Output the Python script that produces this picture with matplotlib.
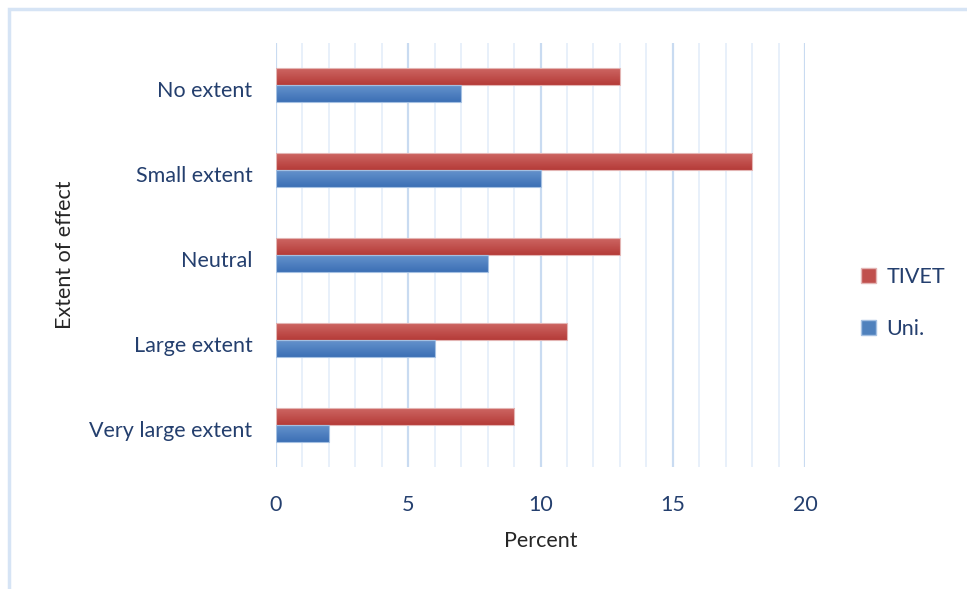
import matplotlib
matplotlib.use('Agg')
import matplotlib.pyplot as plt
import numpy as np
from matplotlib.patches import Rectangle, Patch
from matplotlib.colors import LinearSegmentedColormap
from matplotlib.transforms import ScaledTranslation

categories = ["Very large extent", "Large extent", "Neutral", "Small extent", "No extent"]
tivet = [9, 11, 13, 18, 13]
uni = [2, 6, 8, 10, 7]
series_names = ["TIVET", "Uni."]
x_ticks = [0, 5, 10, 15, 20]

text_col = "#243f6e"
red = "#c0504d"
blue = "#4f81bd"
fs = 15.5

plt.rcParams['font.family'] = ['Lato', 'DejaVu Sans']

fig = plt.figure(figsize=(9.67, 5.89), dpi=100, facecolor="white")
ax = fig.add_axes([276 / 967, 1 - 467 / 589, (805 - 276) / 967, (467 - 43) / 589])

# chart frame, only the top and left edges show
fig.patches.append(Rectangle((9 / 967, -0.1), 1.2, 1 - 9 / 589 + 0.1, transform=fig.transFigure,
                             fill=False, edgecolor="#d6e4f5", linewidth=2.5))


def shade_bars(bars, top, bottom):
    # vertical gradient inside each bar, lighter on top
    cmap = LinearSegmentedColormap.from_list("g", [bottom, top])
    grad = np.linspace(1, 0, 64).reshape(-1, 1)
    for b in bars:
        x0, y0 = b.get_x(), b.get_y()
        im = ax.imshow(grad, cmap=cmap, aspect='auto', interpolation='bicubic',
                       extent=(x0, x0 + b.get_width(), y0, y0 + b.get_height()),
                       origin='upper', zorder=3)
        im.set_clip_path(b)


y = np.arange(len(categories))
h = 0.2
rb = ax.barh(y + h / 2, tivet, height=h, color=red, edgecolor="#e3b5b4", linewidth=0.8, zorder=4)
bb = ax.barh(y - h / 2, uni, height=h, color=blue, edgecolor="#a4c0e2", linewidth=0.8, zorder=4)
for b in list(rb) + list(bb):
    b.set_facecolor("none")
shade_bars(rb, "#cd6663", "#b53b38")
shade_bars(bb, "#6592cc", "#3c70b5")

ax.set_xlim(0, 20)
ax.set_ylim(-0.5, len(categories) - 0.5)

# grid: light line every unit, stronger every 5
for v in range(0, 21):
    major = v % 5 == 0
    ax.axvline(v, color="#c9dbf1" if major else "#e8f0fa", linewidth=1.6 if major else 1.4, zorder=1)

ax.set_xticks(x_ticks)
ax.set_yticks(y)
ax.set_yticklabels(categories)
ax.tick_params(axis='x', length=0, pad=20, labelsize=fs, labelcolor=text_col)
ax.tick_params(axis='y', length=0, pad=17, labelsize=fs, labelcolor=text_col)
shift = ScaledTranslation(0, -4 / 100, fig.dpi_scale_trans)
for lbl in ax.get_yticklabels():
    lbl.set_transform(lbl.get_transform() + shift)
for s in ax.spines.values():
    s.set_visible(False)

ax.set_xlabel("Percent", fontsize=fs, color="#262626", va='center')
ax.xaxis.set_label_coords(0.5, (467 - 541) / 424)
ax.set_ylabel("Extent of effect", fontsize=fs, color="#262626", va='center')
ax.yaxis.set_label_coords((65 - 276) / 529, 0.5)

handles = [Patch(facecolor=red, edgecolor="#e3b5b4"), Patch(facecolor=blue, edgecolor="#a4c0e2")]
fig.legend(handles, series_names, loc='center left', bbox_to_anchor=(842 / 967, 1 - 303 / 589),
           frameon=False, fontsize=fs, labelcolor=text_col, handlelength=0.7, handleheight=0.7,
           handletextpad=0.45, labelspacing=1.45)

fig.savefig("out.png", dpi=100, facecolor="white")
